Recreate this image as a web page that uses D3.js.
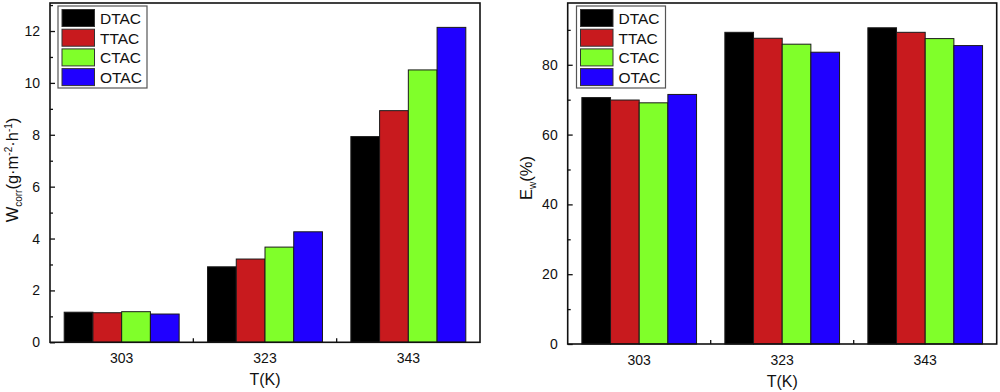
<!DOCTYPE html>
<html><head><meta charset="utf-8">
<script src="https://cdn.jsdelivr.net/npm/d3@7"></script>
<style>
body{margin:0;background:#fff;}
svg{display:block;font-family:"Liberation Sans",Arial,sans-serif;}
</style></head>
<body><svg id="c" width="1000" height="392"></svg>
<script>
const categories = ["303","323","343"];
const seriesNames = ["DTAC","TTAC","CTAC","OTAC"];
const seriesColors = ["#000000","#C81A1E","#80FF2A","#2000FF"];
const wcorrDTAC = [1.16, 2.91, 7.93];
const wcorrTTAC = [1.14, 3.21, 8.93];
const wcorrCTAC = [1.18, 3.67, 10.50];
const wcorrOTAC = [1.09, 4.26, 12.14];
const ewDTAC = [70.6, 89.3, 90.6];
const ewTTAC = [69.9, 87.6, 89.3];
const ewCTAC = [69.1, 85.9, 87.5];
const ewOTAC = [71.5, 83.6, 85.5];
const leftTicks = [0,2,4,6,8,10,12];
const rightTicks = [0,20,40,60,80];

const svg = d3.select("#c");

function panel(o){
  const g = svg.append("g");
  const x = d3.scaleBand().domain(categories).range([o.x0,o.x1]).padding(0);
  const xi = d3.scaleBand().domain(seriesNames).range([x.bandwidth()*0.099, x.bandwidth()*0.901]).padding(0);
  const y = d3.scaleLinear().domain([0,o.ymax]).range([o.y1,o.y0]);
  o.data.forEach((vals,si)=>{
    g.append("g").selectAll("rect").data(vals).join("rect")
      .attr("x",(d,i)=>x(categories[i])+xi(seriesNames[si]))
      .attr("width",xi.bandwidth())
      .attr("y",d=>y(d)).attr("height",d=>y(0)-y(d))
      .attr("fill",seriesColors[si]).attr("stroke","#1a1a1a").attr("stroke-width",1);
  });
  g.append("rect").attr("x",o.x0).attr("y",o.y0).attr("width",o.x1-o.x0).attr("height",o.y1-o.y0)
    .attr("fill","none").attr("stroke","#111").attr("stroke-width",1.6);
  const ya = d3.axisLeft(y).tickValues(o.ticks).tickSize(-5).tickPadding(10).tickFormat(d3.format("d"));
  const yg = g.append("g").attr("transform",`translate(${o.x0},0)`).call(ya);
  yg.select(".domain").remove();
  yg.selectAll("text").attr("font-size",14).attr("fill","#111");
  yg.selectAll("line").attr("stroke","#111").attr("stroke-width",1.3);
  const ym = d3.axisLeft(y).tickValues(o.minor).tickSize(-3).tickFormat("");
  const ymg = g.append("g").attr("transform",`translate(${o.x0},0)`).call(ym);
  ymg.select(".domain").remove();
  ymg.selectAll("line").attr("stroke","#111").attr("stroke-width",1.3);
  const xa = d3.axisBottom(x).tickSize(0).tickPadding(11);
  const xg = g.append("g").attr("transform",`translate(0,${o.y1})`).call(xa);
  xg.select(".domain").remove();
  xg.selectAll("text").attr("font-size",14).attr("fill","#111");
  g.append("g").selectAll("line").data(categories.slice(1)).join("line")
    .attr("x1",d=>x(d)).attr("x2",d=>x(d)).attr("y1",o.y1).attr("y2",o.y1-4)
    .attr("stroke","#111").attr("stroke-width",1.3);
  g.append("text").attr("x",(o.x0+o.x1)/2).attr("y",o.y1+43).attr("text-anchor","middle")
    .attr("font-size",16).attr("fill","#111").text("T(K)");
  const lg = g.append("g").attr("transform",`translate(${o.lx},6)`);
  lg.append("rect").attr("x",0).attr("y",0).attr("width",89).attr("height",82)
    .attr("fill","#fff").attr("stroke","#555").attr("stroke-width",1.2);
  seriesNames.forEach((s,i)=>{
    lg.append("rect").attr("x",4).attr("y",3.5+i*19.7).attr("width",32.5).attr("height",17)
      .attr("fill",seriesColors[i]).attr("stroke","#333").attr("stroke-width",1);
    lg.append("text").attr("x",42).attr("y",3.5+i*19.7+14.5).attr("font-size",15.5).attr("fill","#111").text(s);
  });
  return g;
}

panel({x0:50,x1:480,y0:3,y1:342.3,ymax:13.08,ticks:leftTicks,minor:[1,3,5,7,9,11,13],
  data:[wcorrDTAC,wcorrTTAC,wcorrCTAC,wcorrOTAC],lx:58});
panel({x0:567.7,x1:996.7,y0:3,y1:344,ymax:97.7,ticks:rightTicks,minor:[10,30,50,70,90],
  data:[ewDTAC,ewTTAC,ewCTAC,ewOTAC],lx:576.5});

const t1 = svg.append("text").attr("transform","translate(18,170) rotate(-90)")
  .attr("text-anchor","middle").attr("font-size",16.5).attr("fill","#111");
t1.append("tspan").text("W");
t1.append("tspan").attr("font-size",10).attr("dy",4).text("corr");
t1.append("tspan").attr("dy",-4).text("(g·m");
t1.append("tspan").attr("font-size",10).attr("dy",-6).text("-2");
t1.append("tspan").attr("dy",6).text("·h");
t1.append("tspan").attr("font-size",10).attr("dy",-6).text("-1");
t1.append("tspan").attr("dy",6).text(")");

const t2 = svg.append("text").attr("transform","translate(532,178) rotate(-90)")
  .attr("text-anchor","middle").attr("font-size",16.5).attr("fill","#111");
t2.append("tspan").text("E");
t2.append("tspan").attr("font-size",10).attr("dy",4).text("w");
t2.append("tspan").attr("dy",-4).text("(%)");
</script></body></html>
